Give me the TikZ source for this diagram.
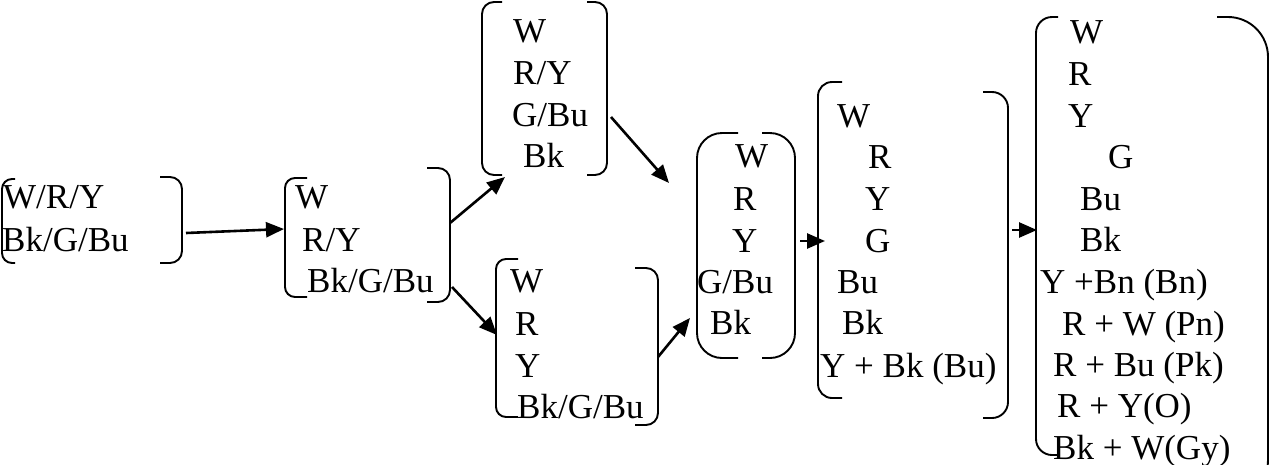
\documentclass[tikz,border=0pt]{standalone}
\usepackage{fontspec}
\setmainfont{Liberation Serif}
\usetikzlibrary{arrows.meta}
\begin{document}
\begin{tikzpicture}[x=1pt,y=-1pt,
  brk/.style={line width=1.9pt,rounded corners=#1},
  brk/.default=10pt,
  lbl/.style={anchor=base west,inner sep=0pt,font=\fontsize{35}{40}\selectfont},
  conn/.style={line width=2.6pt,-{Triangle[length=18pt,width=15pt]}}]
\clip (0,0) rectangle (1271,464);
\fill[white] (0,0) rectangle (1271,464);

% box 1
\draw[brk] (15,179) -- (2,179) -- (2,263) -- (15,263);
\draw[brk=12pt] (160,177) -- (182,177) -- (182,263) -- (160,263);
\node[lbl] (b1a) at (3,208) {W/R/Y};
\node[lbl] (b1b) at (2,251) {Bk/G/Bu};

% box 2
\draw[brk] (307,178) -- (285,178) -- (285,297) -- (307,297);
\draw[brk=12pt] (427,168) -- (450,168) -- (450,302) -- (427,302);
\node[lbl] (b2a) at (295,208) {W};
\node[lbl] (b2b) at (302,251) {R/Y};
\node[lbl] (b2c) at (307,292) {Bk/G/Bu};

% box 3
\draw[brk=12pt] (502,2) -- (482,2) -- (482,175) -- (502,175);
\draw[brk=12pt] (587,2) -- (607,2) -- (607,175) -- (587,175);
\node[lbl] (b3a) at (513,42) {W};
\node[lbl] (b3b) at (513,84) {R/Y};
\node[lbl] (b3c) at (512,126) {G/Bu};
\node[lbl] (b3d) at (523,167) {Bk};

% box 4
\draw[brk] (518,259) -- (496,259) -- (496,417) -- (518,417);
\draw[brk=12pt] (635,268) -- (658,268) -- (658,425) -- (635,425);
\node[lbl] (b4a) at (510,292) {W};
\node[lbl] (b4b) at (515,335) {R};
\node[lbl] (b4c) at (515,377) {Y};
\node[lbl] (b4d) at (517,418) {Bk/G/Bu};

% box 5
\draw[brk=25pt] (738,133) -- (697,133) -- (697,358) -- (738,358);
\draw[brk=25pt] (762,133) -- (795,133) -- (795,358) -- (762,358);
\node[lbl] (b5a) at (735,167) {W};
\node[lbl] (b5b) at (733,210) {R};
\node[lbl] (b5c) at (732,252) {Y};
\node[lbl] (b5d) at (697,293) {G/Bu};
\node[lbl] (b5e) at (710,334) {Bk};

% box 6
\draw[brk=14pt] (842,82) -- (818,82) -- (818,398) -- (842,398);
\draw[brk=16pt] (983,92) -- (1008,92) -- (1008,418) -- (983,418);
\node[lbl] (b6a) at (837,127) {W};
\node[lbl] (b6b) at (868,168) {R};
\node[lbl] (b6c) at (865,210) {Y};
\node[lbl] (b6d) at (865,252) {G};
\node[lbl] (b6e) at (837,293) {Bu};
\node[lbl] (b6f) at (842,334) {Bk};
\node[lbl] (b6g) at (820,377) {Y + Bk (Bu)};

% box 7
\draw[brk=16pt] (1058,17) -- (1036,17) -- (1036,455) -- (1058,455);
\draw[brk=40pt] (1217,17) -- (1268,17) -- (1268,500) -- (1217,500);
\node[lbl] (b7a) at (1070,43) {W};
\node[lbl] (b7b) at (1068,85) {R};
\node[lbl] (b7c) at (1068,127) {Y};
\node[lbl] (b7d) at (1108,168) {G};
\node[lbl] (b7e) at (1080,210) {Bu};
\node[lbl] (b7f) at (1080,251) {Bk};
\node[lbl] (b7g) at (1040,293) {Y +Bn (Bn)};
\node[lbl] (b7h) at (1062,335) {R + W (Pn)};
\node[lbl] (b7i) at (1053,376) {R + Bu (Pk)};
\node[lbl] (b7j) at (1057,417) {R + Y(O)};
\node[lbl] (b7k) at (1053,459) {Bk + W(Gy)};

% connector ports on the brackets
\coordinate (p1o) at (186,233);  \coordinate (p2i) at (284,229);
\coordinate (p2u) at (450,223);  \coordinate (p3i) at (505,177);
\coordinate (p2d) at (452,287);  \coordinate (p4i) at (497,335);
\coordinate (p3o) at (611,117);  \coordinate (p5u) at (669,183);
\coordinate (p4o) at (658,357);  \coordinate (p5d) at (690,318);
\coordinate (p5o) at (800,241);  \coordinate (p6i) at (825,241);
\coordinate (p6o) at (1012,230); \coordinate (p7i) at (1037,230);

\draw[conn] (p1o) -- (p2i);
\draw[conn] (p2u) -- (p3i);
\draw[conn] (p2d) -- (p4i);
\draw[conn] (p3o) -- (p5u);
\draw[conn] (p4o) -- (p5d);
\draw[conn] (p5o) -- (p6i);
\draw[conn] (p6o) -- (p7i);
\end{tikzpicture}
\end{document}
